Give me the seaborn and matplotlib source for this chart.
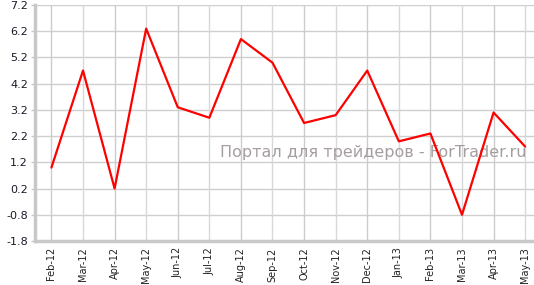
import matplotlib
matplotlib.use("Agg")
import matplotlib.pyplot as plt
import seaborn as sns
import pandas as pd

months = ["Feb-12", "Mar-12", "Apr-12", "May-12", "Jun-12", "Jul-12", "Aug-12", "Sep-12",
          "Oct-12", "Nov-12", "Dec-12", "Jan-13", "Feb-13", "Mar-13", "Apr-13", "May-13"]
values = [1.0, 4.7, 0.2, 6.3, 3.3, 2.9, 5.9, 5.0, 2.7, 3.0, 4.7, 2.0, 2.3, -0.8, 3.1, 1.8]
yticks = [-1.8, -0.8, 0.2, 1.2, 2.2, 3.2, 4.2, 5.2, 6.2, 7.2]
watermark = "Портал для трейдеров - ForTrader.ru"

sns.set_style("white")
plt.rcParams['font.family'] = ['DejaVu Sans']

df = pd.DataFrame({"idx": range(len(months)), "value": values})

fig = plt.figure(figsize=(5.34, 2.85), dpi=100)
ax = fig.add_axes([35/534, 44/285, 1 - 35/534, (241-5)/285])

grid_c = "#cfcfcf"
for y in yticks:
    ax.axhline(y, color=grid_c, lw=1.0, zorder=0)
for i in range(len(months)):
    ax.axvline(i, color="#d8d8d8" if i % 2 else "#cccccc", lw=1.0, zorder=0)

ax.text(0.985, 0.377, watermark, transform=ax.transAxes, ha="right", va="center",
        fontsize=11.5, color="#a69e9e", zorder=1)

sns.lineplot(data=df, x="idx", y="value", color="#ff0000", lw=1.6, ax=ax, zorder=3)

ax.set_xlim(-0.52, 15.28)
ax.set_ylim(-1.8, 7.2)
ax.set_yticks(yticks)
ax.set_yticklabels([f"{t:.1f}" for t in yticks], fontsize=8, color="#1a1a2a")
ax.set_xticks(range(len(months)))
ax.set_xticklabels(months, rotation=90, fontsize=7, color="#222222")
ax.set_xlabel("")
ax.set_ylabel("")

for s in ["top", "right"]:
    ax.spines[s].set_visible(False)
for s in ["left", "bottom"]:
    ax.spines[s].set_color("#c8c8c8")
    ax.spines[s].set_linewidth(2.5)

ax.tick_params(axis="y", left=True, length=3, width=1, color="#c8c8c8", pad=2)
ax.tick_params(axis="x", bottom=False, pad=1)

fig.savefig("out.png", dpi=100)
